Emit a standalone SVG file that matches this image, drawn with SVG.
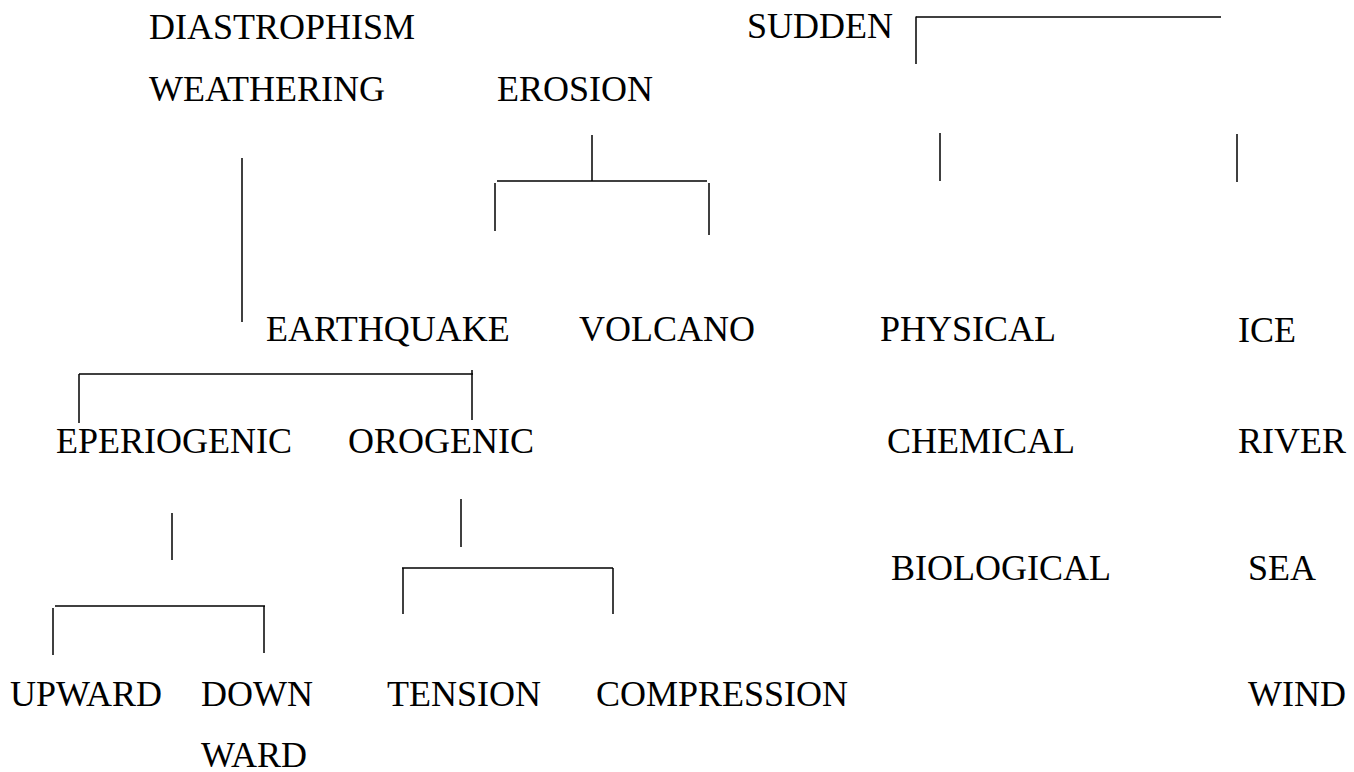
<svg xmlns="http://www.w3.org/2000/svg" width="1354" height="772" viewBox="0 0 1354 772">
<style>
text{font-family:"Liberation Serif","Times New Roman",serif;font-size:36px;fill:#000}
.c line{stroke:#000;stroke-width:1.5;fill:none}
</style>
<rect width="1354" height="772" fill="#fff"/>
<g id="n-diastrophism"><text x="149" y="39">DIASTROPHISM</text></g>
<g id="n-weathering"><text x="149" y="101">WEATHERING</text></g>
<g id="n-erosion"><text x="497" y="101">EROSION</text></g>
<g id="n-sudden"><text x="747" y="38">SUDDEN</text></g>
<g id="n-earthquake"><text x="266" y="341">EARTHQUAKE</text></g>
<g id="n-volcano"><text x="579" y="341">VOLCANO</text></g>
<g id="n-physical"><text x="880" y="341">PHYSICAL</text></g>
<g id="n-ice"><text x="1238" y="342">ICE</text></g>
<g id="n-eperiogenic"><text x="56" y="453">EPERIOGENIC</text></g>
<g id="n-orogenic"><text x="348" y="453">OROGENIC</text></g>
<g id="n-chemical"><text x="887" y="453">CHEMICAL</text></g>
<g id="n-river"><text x="1238" y="453">RIVER</text></g>
<g id="n-biological"><text x="891" y="580">BIOLOGICAL</text></g>
<g id="n-sea"><text x="1248" y="580">SEA</text></g>
<g id="n-upward"><text x="10" y="706">UPWARD</text></g>
<g id="n-downward"><text x="201" y="706">DOWN</text><text x="201" y="767">WARD</text></g>
<g id="n-tension"><text x="387" y="706">TENSION</text></g>
<g id="n-compression"><text x="596" y="706">COMPRESSION</text></g>
<g id="n-wind"><text x="1248" y="706">WIND</text></g>
<g id="connectors" class="c">
<line x1="916" y1="17" x2="1221" y2="17"/>
<line x1="916" y1="16.5" x2="916" y2="64"/>
<line x1="242" y1="158" x2="242" y2="322"/>
<line x1="592" y1="135" x2="592" y2="181"/>
<line x1="497" y1="181" x2="707" y2="181"/>
<line x1="495" y1="183" x2="495" y2="231"/>
<line x1="709" y1="183" x2="709" y2="235"/>
<line x1="940" y1="133" x2="940" y2="181"/>
<line x1="1237" y1="134" x2="1237" y2="182"/>
<line x1="79" y1="374" x2="473" y2="374"/>
<line x1="79" y1="374" x2="79" y2="423"/>
<line x1="472" y1="370" x2="472" y2="420"/>
<line x1="172" y1="513" x2="172" y2="560"/>
<line x1="461" y1="499" x2="461" y2="547"/>
<line x1="402" y1="568" x2="613" y2="568"/>
<line x1="403" y1="568" x2="403" y2="614"/>
<line x1="613" y1="568" x2="613" y2="614"/>
<line x1="55" y1="606" x2="265" y2="606"/>
<line x1="53" y1="608" x2="53" y2="655"/>
<line x1="264" y1="606" x2="264" y2="653"/>
</g>
</svg>
